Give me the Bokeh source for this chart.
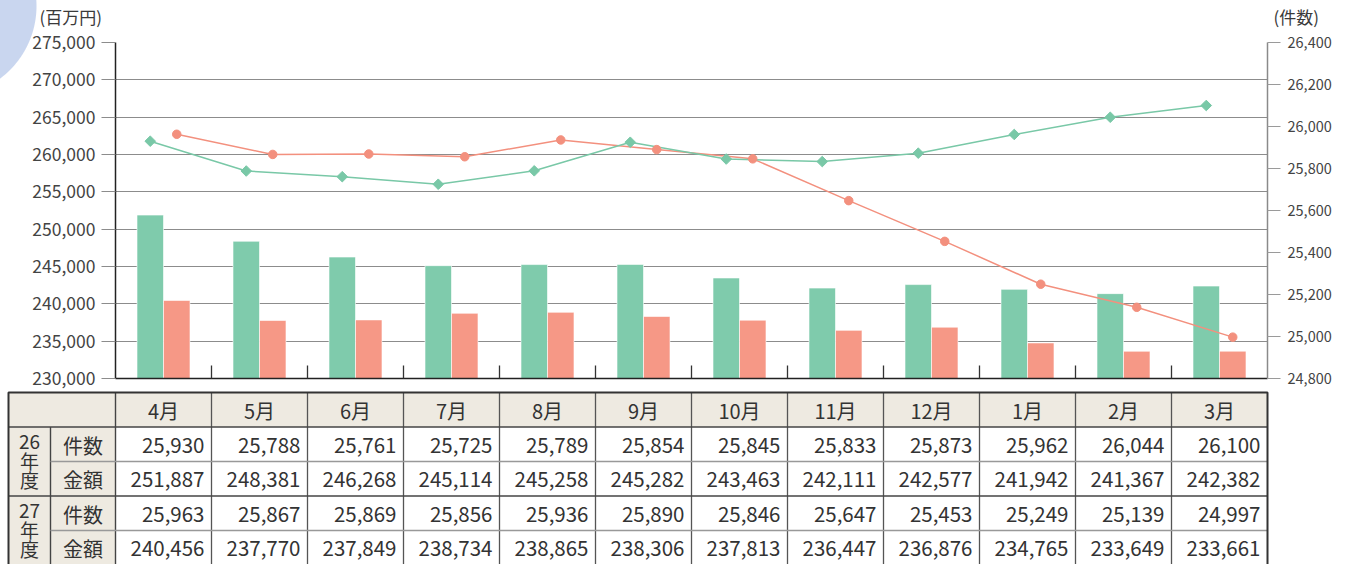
import numpy as np
from bokeh.plotting import figure
from bokeh.models import (ColumnDataSource, Range1d, LinearAxis, FixedTicker,
                          NumeralTickFormatter)
from bokeh.transform import dodge
from bokeh.core.properties import value
from bokeh.embed import file_html
from bokeh.resources import INLINE

# ---------------- data ----------------
months = ["4月", "5月", "6月", "7月", "8月", "9月", "10月", "11月", "12月", "1月", "2月", "3月"]
count_26 = [25930, 25788, 25761, 25725, 25789, 25854, 25845, 25833, 25873, 25962, 26044, 26100]
amount_26 = [251887, 248381, 246268, 245114, 245258, 245282, 243463, 242111, 242577, 241942, 241367, 242382]
count_27 = [25963, 25867, 25869, 25856, 25936, 25890, 25846, 25647, 25453, 25249, 25139, 24997]
amount_27 = [240456, 237770, 237849, 238734, 238865, 238306, 237813, 236447, 236876, 234765, 233649, 233661]
# the 26年度 件数 line as drawn in the chart (its 9月 point is plotted higher than the table value)
count_26_line = [25930, 25788, 25761, 25725, 25789, 25925, 25845, 25833, 25873, 25962, 26044, 26100]
left_ticks = list(range(230000, 275001, 5000))
right_ticks = list(range(24800, 26401, 200))
year_labels = [["26", "年", "度"], ["27", "年", "度"]]
row_labels = ["件数", "金額", "件数", "金額"]
unit_left = "(百万円)"
unit_right = "(件数)"

FONT = "Noto Sans CJK JP"
GREEN = "#7fcbac"
SALMON = "#f69886"
GREEN_L = "#79c8a7"
SALMON_L = "#f3907e"
TXT = "#333333"
CIRCLE = "#c9d6ef"

W = 1346


def circle_bg(top):
    # decorative circle in the top-left corner (page coords centre (-54, 6), r=91)
    return {"background": f"radial-gradient(circle 91px at -54px {6 - top}px, {CIRCLE} 0px, "
                          f"{CIRCLE} 90px, rgba(255,255,255,0) 91px)"}


n = len(months)
slot = np.arange(n) + 0.5   # category slot centres on a 0..n axis
src = ColumnDataSource(dict(month=months, slot=slot, a26=amount_26, a27=amount_27,
                            c26=count_26_line, c27=count_27))

# ---------------- units row ----------------
UH = 28
u = figure(width=W, height=UH, x_range=Range1d(0, W), y_range=Range1d(UH, 0),
           output_backend="svg", toolbar_location=None, min_border=0,
           outline_line_color=None, x_axis_location=None, y_axis_location=None,
           border_fill_color=None, background_fill_color=None, styles=circle_bg(0))
u.xgrid.visible = False
u.ygrid.visible = False
u.text(x=[39, 1273], y=[16, 16], text=[unit_left, unit_right], text_align="left",
       text_baseline="middle", text_font=value(FONT), text_font_size="17px", text_color="#3a3a3a")

# ---------------- chart ----------------
CH = 362
p = figure(width=W, height=CH, x_range=Range1d(0, n),
           y_range=Range1d(left_ticks[0], left_ticks[-1]),
           output_backend="svg", toolbar_location=None,
           min_border_left=115, min_border_right=79, min_border_top=14,
           min_border_bottom=12, outline_line_color=None,
           border_fill_color=None, background_fill_color="white",
           styles=circle_bg(UH))

p.extra_y_ranges = {"cnt": Range1d(right_ticks[0], right_ticks[-1])}

# left axis
ya = p.yaxis[0]
ya.ticker = FixedTicker(ticks=left_ticks)
ya.formatter = NumeralTickFormatter(format="0,0")
ya.major_tick_out = 14
ya.major_tick_in = 0
ya.minor_tick_line_color = None
ya.major_tick_line_color = "#8c8c8c"
ya.major_tick_line_width = 1.2
ya.axis_line_color = "#222222"
ya.axis_line_width = 1.5
ya.major_label_text_font = FONT
ya.major_label_text_font_size = "17.5px"
ya.major_label_text_color = "#444444"
ya.major_label_standoff = 6

# right axis
ra = LinearAxis(y_range_name="cnt", ticker=FixedTicker(ticks=right_ticks),
                formatter=NumeralTickFormatter(format="0,0"))
ra.major_tick_out = 13
ra.major_tick_in = 0
ra.minor_tick_line_color = None
ra.major_tick_line_color = "#9a9a9a"
ra.major_tick_line_width = 1.2
ra.axis_line_color = "#8a8a8a"
ra.axis_line_width = 1.5
ra.major_label_text_font = FONT
ra.major_label_text_font_size = "14.5px"
ra.major_label_text_color = "#444444"
ra.major_label_standoff = 7
p.add_layout(ra, "right")

# bottom axis: ticks at the category boundaries, no labels
xa = p.xaxis[0]
xa.ticker = FixedTicker(ticks=list(range(1, n)))
xa.major_tick_in = 13
xa.major_tick_out = 0
xa.major_tick_line_color = "#333333"
xa.major_tick_line_width = 1.3
xa.minor_tick_line_color = None
xa.major_label_text_font_size = "0px"
xa.major_label_text_color = None
xa.major_label_standoff = 0
xa.axis_line_color = "#222222"
xa.axis_line_width = 1.5

p.xgrid.visible = False
p.ygrid.grid_line_color = "#8c8c8c"
p.ygrid.grid_line_width = 1.2

off = 0.138
bw = 0.276
p.vbar(x=dodge("slot", -off), top="a26", bottom=left_ticks[0],
       width=bw, source=src, fill_color=GREEN, line_color="white", line_alpha=0.6, line_width=1)
p.vbar(x=dodge("slot", off), top="a27", bottom=left_ticks[0],
       width=bw, source=src, fill_color=SALMON, line_color="white", line_alpha=0.6, line_width=1)

p.line(x=dodge("slot", off), y="c27", y_range_name="cnt",
       source=src, line_color=SALMON_L, line_width=1.5)
p.line(x=dodge("slot", -off), y="c26", y_range_name="cnt",
       source=src, line_color=GREEN_L, line_width=1.5)
p.scatter(x=dodge("slot", off), y="c27", y_range_name="cnt",
          source=src, marker="circle", size=8.5, fill_color=SALMON_L, line_color=SALMON_L)
p.scatter(x=dodge("slot", -off), y="c26", y_range_name="cnt",
          source=src, marker="square", angle=np.pi / 4, size=7.5,
          fill_color=GREEN_L, line_color=GREEN_L)

# ---------------- table ----------------
TH = 564 - UH - CH
t = figure(width=W, height=TH, x_range=Range1d(0, W), y_range=Range1d(TH, 0),
           output_backend="svg", toolbar_location=None, min_border=0,
           outline_line_color=None, x_axis_location=None, y_axis_location=None)
t.xgrid.visible = False
t.ygrid.visible = False

c0, c1, c2 = 8, 50, 115
cw = 96
right = c2 + cw * n
rh = 34.5
top = 2
rows_y = [top + rh * k for k in range(6)]
BEIGE = "#eeeae1"

# backgrounds
t.quad(left=[c0, c0], right=[right, c2], top=[top, top], bottom=[rows_y[1], rows_y[5]],
       fill_color=BEIGE, line_color=None)

# inner lines
vx = [c2 + cw * k for k in range(1, n)]
t.segment(x0=vx, y0=[top] * len(vx), x1=vx, y1=[rows_y[5]] * len(vx),
          line_color="#555555", line_width=1.3)
t.segment(x0=[c1, c2], y0=[rows_y[1], top], x1=[c1, c2], y1=[rows_y[5], rows_y[5]],
          line_color="#444444", line_width=1.4)
t.segment(x0=[c0, c0], y0=[rows_y[1], rows_y[3]], x1=[right, right], y1=[rows_y[1], rows_y[3]],
          line_color="#444444", line_width=1.4)
t.segment(x0=[c1, c1], y0=[rows_y[2], rows_y[4]], x1=[right, right], y1=[rows_y[2], rows_y[4]],
          line_color="#999999", line_width=1.5)
# outer border
t.quad(left=[c0], right=[right], top=[top], bottom=[rows_y[5]],
       fill_color=None, line_color="#333333", line_width=2)

# header texts
hx = [c2 + cw * i + cw / 2 for i in range(n)]
t.text(x=hx, y=[rows_y[0] + rh / 2 + 1] * n, text=months, text_align="center",
       text_baseline="middle", text_font=value(FONT), text_font_size="20px", text_color=TXT)

# data texts
series = [count_26, amount_26, count_27, amount_27]
dx, dy, dt = [], [], []
for r, s in enumerate(series):
    for i, v in enumerate(s):
        dx.append(c2 + cw * (i + 1) - 7)
        dy.append(rows_y[r + 1] + rh / 2 + 1)
        dt.append(f"{v:,}")
t.text(x=dx, y=dy, text=dt, text_align="right", text_baseline="middle",
       text_font=value(FONT), text_font_size="20.5px", text_color=TXT)

# row labels
t.text(x=[(c1 + c2) / 2] * 4, y=[rows_y[r + 1] + rh / 2 + 1 for r in range(4)], text=row_labels,
       text_align="center", text_baseline="middle",
       text_font=value(FONT), text_font_size="20px", text_color=TXT)

# year labels (stacked)
yx, yy, yt = [], [], []
for g, parts in enumerate(year_labels):
    center = rows_y[1 + 2 * g] + rh
    for k, s in enumerate(parts):
        yx.append((c0 + c1) / 2)
        yy.append(center + (k - 1) * 19 - 1)
        yt.append(s)
t.text(x=yx, y=yy, text=yt, text_align="center", text_baseline="middle",
       text_font=value(FONT), text_font_size="19px", text_color=TXT)

open("out.html", "w").write(file_html([u, p, t], INLINE))
